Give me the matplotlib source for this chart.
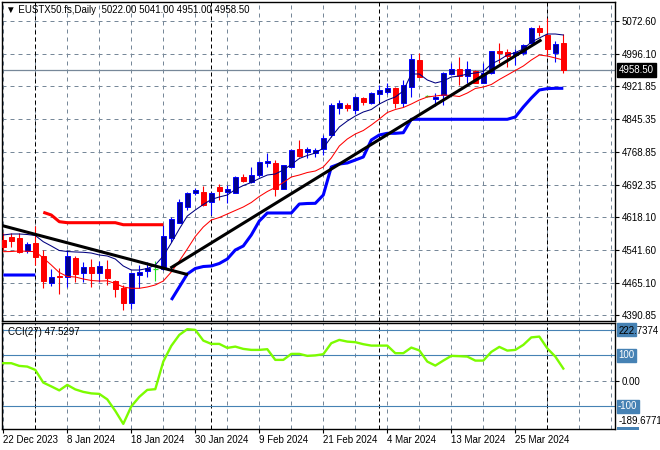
import matplotlib
matplotlib.use("Agg")
import matplotlib.pyplot as plt
from matplotlib.patches import Rectangle
import numpy as np

plt.rcParams["font.family"] = ["Liberation Sans", "DejaVu Sans"]
plt.rcParams["font.size"] = 7

# ---------------------------------------------------------------------------
# Data
# ---------------------------------------------------------------------------
symbol = "EUSTX50.fs,Daily"
last_ohlc = ["5022.00", "5041.00", "4951.00", "4958.50"]
last_price = 4958.50

opens = [4564.3, 4570.5, 4568.9, 4539.5, 4558.0, 4527.2, 4465.3, 4481.5, 4479.2, 4523.3,
         4487.1, 4502.4, 4487.1, 4496.4, 4469.9, 4453.7, 4418.9, 4483.8, 4493.1, 4496.4,
         4497.1, 4569.6, 4604.4, 4641.5, 4672.5, 4675.5, 4652.4, 4687.8, 4676.2, 4673.9,
         4709.6, 4698.7, 4714.3, 4743.5, 4743.5, 4683.2, 4734.2, 4774.5, 4767.6, 4765.2,
         4774.5, 4807.7, 4870.9, 4877.2, 4865.6, 4892.7, 4881.1, 4902.7, 4908.0, 4915.9,
         4881.1, 4919.6, 4981.5, 4898.1, 4890.4, 4900.4, 4949.1, 4960.0, 4944.4, 4956.7,
         4928.9, 4950.7, 5002.4, 5000.8, 4993.1, 4997.1, 5020.2, 5055.0, 5039.5, 4997.1,
         5022.0]
highs = [4580.5, 4580.5, 4580.5, 4560.3, 4596.7, 4541.1, 4497.1, 4499.4, 4541.1, 4527.2,
         4514.0, 4520.2, 4516.3, 4517.9, 4471.6, 4460.0, 4488.5, 4506.3, 4512.6, 4515.6,
         4599.0, 4618.3, 4658.6, 4676.2, 4684.8, 4689.5, 4675.5, 4693.4, 4691.8, 4712.6,
         4717.3, 4732.8, 4748.1, 4765.2, 4749.7, 4738.8, 4774.5, 4796.1, 4780.5, 4776.8,
         4807.7, 4882.5, 4888.8, 4882.5, 4898.1, 4896.4, 4907.3, 4923.6, 4928.9, 4919.6,
         4935.2, 4995.4, 4997.1, 4900.4, 4905.7, 4954.4, 4975.3, 4989.2, 4979.9, 4958.3,
         4973.9, 5003.1, 5021.6, 5006.3, 5006.3, 5018.6, 5058.7, 5062.6, 5078.2, 5026.3,
         5041.0]
lows = [4541.1, 4548.1, 4534.1, 4533.4, 4506.3, 4453.0, 4457.7, 4439.1, 4456.0, 4467.6,
        4467.6, 4456.0, 4467.6, 4460.0, 4432.9, 4402.0, 4403.6, 4452.3, 4479.2, 4469.9,
        4494.7, 4560.3, 4603.0, 4633.8, 4668.6, 4643.1, 4622.2, 4657.0, 4649.3, 4672.5,
        4699.4, 4697.1, 4711.0, 4732.8, 4666.3, 4681.8, 4732.8, 4757.4, 4753.7, 4756.0,
        4761.3, 4803.7, 4856.3, 4863.3, 4856.3, 4877.2, 4879.5, 4887.2, 4902.7, 4869.6,
        4871.9, 4896.4, 4941.4, 4895.8, 4874.9, 4877.2, 4946.7, 4923.6, 4928.9, 4927.5,
        4927.5, 4949.1, 4973.9, 4966.0, 4969.9, 4993.1, 5018.6, 5037.2, 4993.1, 4977.6,
        4951.0]
closes = [4548.1, 4562.7, 4535.8, 4555.0, 4525.6, 4469.9, 4478.5, 4477.8, 4527.2, 4484.8,
          4502.4, 4488.5, 4504.0, 4475.5, 4450.0, 4418.9, 4487.1, 4490.1, 4498.7, 4496.4,
          4573.6, 4613.7, 4652.4, 4673.9, 4680.2, 4645.4, 4673.2, 4678.6, 4681.8, 4709.6,
          4701.7, 4714.3, 4745.1, 4748.1, 4683.2, 4737.4, 4772.9, 4759.0, 4775.2, 4772.9,
          4800.0, 4877.2, 4881.1, 4869.6, 4895.1, 4883.5, 4905.7, 4912.0, 4917.3, 4882.5,
          4923.6, 4983.1, 4942.8, 4898.1, 4895.1, 4952.1, 4960.0, 4944.4, 4960.0, 4928.9,
          4950.7, 5002.4, 4997.7, 4990.1, 5000.8, 5016.3, 5055.0, 5047.1, 5006.3, 5018.6,
          4958.5]

ma_fast = [4575.9, 4578.2, 4578.2, 4577.0, 4574.7, 4560.3, 4550.4, 4539.9, 4537.6, 4536.5,
           4535.8, 4534.1, 4529.5, 4527.2, 4520.2, 4504.0, 4494.7, 4494.7, 4498.2, 4506.3,
           4527.2, 4557.3, 4589.8, 4619.9, 4633.8, 4646.6, 4658.2, 4664.0, 4668.6, 4681.3,
           4690.6, 4697.6, 4706.8, 4714.9, 4717.3, 4726.5, 4739.3, 4753.2, 4760.2, 4765.9,
           4777.5, 4803.0, 4826.2, 4840.1, 4851.7, 4861.0, 4866.8, 4879.5, 4888.8, 4895.8,
           4909.7, 4949.1, 4949.1, 4935.2, 4928.2, 4932.8, 4942.1, 4944.4, 4949.1, 4951.4,
           4954.9, 4972.2, 4981.5, 4993.1, 4998.9, 5007.0, 5023.2, 5032.5, 5041.8, 5041.8,
           5039.5]
ma_slow = [4537.2, 4537.6, 4538.8, 4538.1, 4537.2, 4522.6, 4506.3, 4488.9, 4479.7, 4478.5,
           4473.9, 4470.4, 4469.2, 4469.7, 4463.4, 4455.3, 4452.3, 4452.3, 4455.3, 4460.0,
           4469.2, 4490.1, 4515.6, 4543.4, 4572.4, 4594.4, 4610.6, 4616.4, 4624.5, 4632.7,
           4640.8, 4651.2, 4665.1, 4676.7, 4686.0, 4697.6, 4710.3, 4714.9, 4720.7, 4724.2,
           4733.5, 4754.4, 4782.2, 4798.4, 4810.0, 4818.1, 4830.8, 4844.8, 4859.8, 4866.8,
           4871.4, 4879.5, 4888.8, 4895.8, 4898.1, 4900.4, 4899.2, 4896.9, 4905.0, 4915.5,
           4918.9, 4924.7, 4936.3, 4946.7, 4957.2, 4967.6, 4981.5, 4993.1, 4990.8, 4986.2,
           4981.5]

nan = float("nan")
stop_support = ([4483.1] * 5 + [nan] * 16 +
                [4425.2, 4455.3, 4485.5, 4498.2, 4502.8, 4504.0, 4509.8, 4520.2, 4541.1, 4550.4,
                 4575.9, 4608.3, 4626.9, 4626.9, 4626.9, 4626.9, 4647.7, 4648.9, 4649.3, 4668.6,
                 4733.5, 4740.4, 4742.8, 4749.7, 4756.7, 4796.1, 4807.7, 4811.6, 4811.6, 4813.0] +
                [4844.1] * 13 +
                [4849.4, 4872.6, 4893.4, 4912.0, 4915.2, 4915.9, 4915.9])
stop_resist = ([nan] * 5 + [4628.5, 4622.2, 4606.7] + [4604.4] * 7 + [4599.7] * 6 +
               [nan] * 50)

cci_period = 27
cci = [68.6, 68.6, 58.0, 55.3, 42.4, -7.5, -22.4, -38.0, -16.5, -34.1,
       -43.9, -49.8, -51.8, -73.3, -118.4, -169.4, -100.8, -63.5, -36.1, -33.3,
       74.9, 136.5, 179.6, 202.0, 199.2, 157.3, 144.3, 144.3, 128.6, 133.7,
       124.7, 120.8, 120.8, 123.5, 81.6, 81.6, 105.1, 105.1, 97.3, 99.2,
       103.9, 147.1, 160.0, 153.3, 151.0, 143.1, 137.6, 137.6, 137.6, 107.8,
       107.8, 129.8, 118.8, 74.9, 59.2, 78.8, 97.3, 96.1, 94.5, 78.8,
       78.8, 112.9, 132.5, 118.0, 120.8, 140.4, 169.8, 172.9, 126.7, 94.5,
       47.5297]
cci_levels = [200, 100, -100]
cci_range_labels = ["222.7374", "-189.6771"]

# trend lines drawn on the chart: (bar positions, prices)
trend_down_x, trend_down_y = [-0.08, 22.9], [4597.4, 4484.8]
trend_up_x, trend_up_y = [21.05, 67.1], [4501.0, 5026.7]

price_ticks = [5072.60, 4996.10, 4921.85, 4845.35, 4768.85,
               4692.35, 4618.10, 4541.60, 4465.10, 4390.85]
date_labels = ["22 Dec 2023", "8 Jan 2024", "18 Jan 2024", "30 Jan 2024", "9 Feb 2024",
               "21 Feb 2024", "4 Mar 2024", "13 Mar 2024", "25 Mar 2024"]
date_label_idx = [0, 8, 16, 24, 32, 40, 48, 56, 64]
month_start_idx = [4, 26, 47, 68]

# ---------------------------------------------------------------------------
# Figure layout
# ---------------------------------------------------------------------------
W, H = 660, 450
fig = plt.figure(figsize=(W / 100, H / 100), dpi=100)
fig.patch.set_facecolor("white")

ax = fig.add_axes([2 / W, 1 - 321 / H, 613 / W, 319 / H])
axc = fig.add_axes([2 / W, 1 - 428.5 / H, 613 / W, 106 / H], sharex=ax)

n = len(closes)
x = np.arange(n)
xlim = (-0.16, 76.46)
GRID = "#778899"
vgrid = np.arange(0, 77, 4)

for a in (ax, axc):
    for s in a.spines.values():
        s.set_color("black")
        s.set_linewidth(1.0)
    for v in vgrid:
        a.axvline(v, color=GRID, lw=0.72, dashes=(4, 4), zorder=0)
    for v in month_start_idx:
        a.axvline(v, color="black", lw=0.72, dashes=(4, 3), zorder=0.5)

# ---------------------------------------------------------------------------
# Price panel
# ---------------------------------------------------------------------------
ax.set_xlim(*xlim)
ax.set_ylim(4376.5, 5116.0)
for p in price_ticks:
    ax.axhline(p, color=GRID, lw=0.72, dashes=(4, 4), zorder=0)
ax.axhline(last_price, color=GRID, lw=0.9, zorder=1)

o, h, l, c = map(np.array, (opens, highs, lows, closes))
up, dn, flat = c > o, c < o, c == o
BULL_FACE, BULL_EDGE = "#00008c", "#0000ff"

ax.vlines(x[up], l[up], h[up], color=BULL_EDGE, lw=0.8, zorder=3)
ax.vlines(x[dn], l[dn], h[dn], color="red", lw=0.8, zorder=3)
ax.vlines(x[flat], l[flat], h[flat], color="#22dd22", lw=0.8, zorder=3)
ax.bar(x[up], (c - o)[up], bottom=o[up], width=0.6, color=BULL_FACE,
       edgecolor=BULL_EDGE, linewidth=0.7, zorder=4)
ax.bar(x[dn], (o - c)[dn], bottom=c[dn], width=0.6, color="red",
       edgecolor="red", linewidth=0.7, zorder=4)
ax.hlines(o[flat], x[flat] - 0.3, x[flat] + 0.3, color="#22dd22", lw=0.9, zorder=4)

ax.plot(x, ma_slow, color="red", lw=0.75, zorder=5)
ax.plot(x, ma_fast, color="#000080", lw=0.75, zorder=5)
ax.plot(x, stop_support, color="#0000ff", lw=2.2, zorder=6, solid_capstyle="butt")
ax.plot(x, stop_resist, color="#ff0000", lw=2.2, zorder=6, solid_capstyle="butt")
ax.plot(trend_down_x, trend_down_y, color="black", lw=2.2, zorder=7)
ax.plot(trend_up_x, trend_up_y, color="black", lw=2.2, zorder=7)

ax.yaxis.tick_right()
ax.set_yticks(price_ticks)
ax.set_yticklabels([f"{p:.2f}" for p in price_ticks])
ax.tick_params(axis="y", direction="out", length=3, pad=2, labelsize=7, colors="black")
ax.tick_params(axis="x", bottom=False, labelbottom=False)

ax.text(1 + 4 / 613, last_price, f"{last_price:.2f}", transform=ax.get_yaxis_transform(),
        ha="left", va="center", color="white", fontsize=7, zorder=10,
        bbox=dict(boxstyle="square,pad=0.2", fc="black", ec="black"), clip_on=False)

fig.text(6 / W, 1 - 10 / H, "\u25bc " + symbol + "  " + " ".join(last_ohlc),
         ha="left", va="center", fontsize=7, color="black")

# ---------------------------------------------------------------------------
# CCI panel
# ---------------------------------------------------------------------------
axc.set_ylim(-187.5, 228.2)
axc.axhline(0, color=GRID, lw=0.72, dashes=(4, 4), zorder=0)
for lv in cci_levels:
    axc.axhline(lv, color="#4682b4", lw=0.8, zorder=1)
axc.plot(x, cci, color="#7cfc00", lw=1.7, zorder=5)

axc.yaxis.tick_right()
axc.set_yticks([0])
axc.set_yticklabels(["0.00"])
axc.tick_params(axis="y", direction="out", length=3, pad=2, labelsize=7, colors="black")

ytr = axc.get_yaxis_transform()
for lv in cci_levels:
    txt_color = "#4682b4" if lv == 200 else "white"
    axc.text(1 + 3 / 613, lv, f"{lv}", transform=ytr, ha="left", va="center",
             color=txt_color, fontsize=7, clip_on=False,
             bbox=dict(boxstyle="square,pad=0.15", fc="#4682b4", ec="#4682b4"))
axc.text(1 + 4 / 613, 1 - 3 / 106, cci_range_labels[0], transform=axc.transAxes,
         ha="left", va="top", fontsize=7, color="black", zorder=12)
axc.text(1 + 4 / 613, 3 / 106, cci_range_labels[1], transform=axc.transAxes,
         ha="left", va="bottom", fontsize=7, color="black", zorder=12)
fig.patches.append(Rectangle((617 / W, 1 - 429.5 / H), 22 / W, 2.5 / H,
                             transform=fig.transFigure, fc="#4682b4", ec="none"))

fig.text(8 / W, 1 - 332 / H, f"CCI({cci_period}) {cci[-1]:.4f}",
         ha="left", va="center", fontsize=7, color="black")

axc.set_xticks(date_label_idx)
axc.set_xticklabels(date_labels, ha="left")
axc.tick_params(axis="x", direction="out", length=3, pad=2, labelsize=7, colors="black")

fig.savefig("out.png", dpi=100, facecolor="white")
plt.close(fig)
